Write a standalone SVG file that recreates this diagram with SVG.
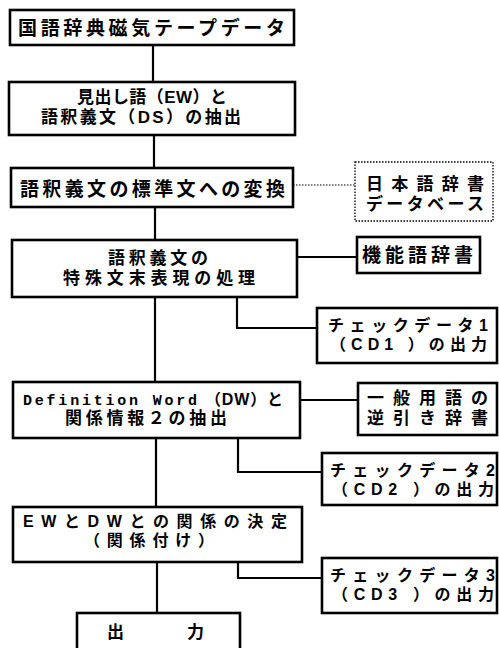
<svg xmlns="http://www.w3.org/2000/svg" width="499" height="648" viewBox="0 0 499 648">
<style>
.box{fill:#fff;stroke:#000;stroke-width:2.6}
.dbox{fill:#fff;stroke:#000;stroke-width:1.3;stroke-dasharray:1.5 1.5}
.ln{fill:none;stroke:#000;stroke-width:2.2}
.dl{fill:none;stroke:#000;stroke-width:1.2;stroke-dasharray:1.5 1.5}
text{font-family:"Liberation Sans","Noto Sans CJK JP",sans-serif;font-weight:bold;fill:#000}
.t19{font-size:19px}
.t17{font-size:17px}
.t16{font-size:16px}
.mono{font-family:"Liberation Mono","Noto Sans CJK JP",monospace;font-size:15px}
</style>
<rect width="499" height="648" fill="#fff"/>
<g id="connectors">
<line class="ln" x1="153" y1="45" x2="153" y2="82"/>
<line class="ln" x1="154" y1="135" x2="154" y2="168"/>
<line class="ln" x1="155" y1="207" x2="155" y2="240"/>
<line class="ln" x1="155" y1="297" x2="155" y2="382"/>
<line class="ln" x1="156" y1="438" x2="156" y2="507"/>
<line class="ln" x1="157" y1="562" x2="157" y2="613"/>
<line class="dl" x1="293" y1="185" x2="355" y2="185"/>
<line class="ln" x1="297" y1="257" x2="357" y2="257"/>
<polyline class="ln" points="237,297 237,328 317,328"/>
<line class="ln" x1="300" y1="400" x2="358" y2="400"/>
<polyline class="ln" points="238,438 238,472 322,472"/>
<polyline class="ln" points="238,562 238,578 322,578"/>
</g>
<g id="n1">
<rect class="box" x="10" y="10" width="284" height="35"/>
<text class="t19" x="18" y="35" textLength="267">国語辞典磁気テープデータ</text>
</g>
<g id="n2">
<rect class="box" x="9" y="82" width="286" height="53"/>
<text class="t17" x="152" y="103" text-anchor="middle" textLength="150">見出し語（EW）と</text>
<text class="t17" x="141" y="123" text-anchor="middle" textLength="200">語釈義文（DS）の抽出</text>
</g>
<g id="n3">
<rect class="box" x="11" y="168" width="282" height="39"/>
<text class="t19" x="20" y="196" textLength="265">語釈義文の標準文への変換</text>
</g>
<g id="n3db">
<rect class="dbox" x="355" y="162" width="138" height="59"/>
<text class="t17" x="366" y="190" textLength="118">日本語辞書</text>
<text class="t17" x="366" y="210" textLength="118">データベース</text>
</g>
<g id="n4">
<rect class="box" x="12" y="240" width="285" height="57"/>
<text class="t17" x="158" y="264" text-anchor="middle" textLength="100">語釈義文の</text>
<text class="t17" x="159" y="284" text-anchor="middle" textLength="192">特殊文末表現の処理</text>
</g>
<g id="n4d">
<rect class="box" x="357" y="237" width="123" height="36"/>
<text class="t19" x="362" y="262" textLength="111">機能語辞書</text>
</g>
<g id="n4c">
<rect class="box" x="317" y="308" width="180" height="55"/>
<text class="t16" x="328" y="331" textLength="160">チェックデータ1</text>
<text class="t16" x="330" y="350" textLength="157">（CD1 ）の出力</text>
</g>
<g id="n5">
<rect class="box" x="13" y="382" width="287" height="56"/>
<text class="mono" x="23" y="405" textLength="174">Definition Word</text>
<text class="t16" x="205" y="405" textLength="78">（DW）と</text>
<text class="t17" x="65" y="424" textLength="162">関係情報２の抽出</text>
</g>
<g id="n5d">
<rect class="box" x="358" y="383" width="139" height="52"/>
<text class="t17" x="367" y="404" textLength="121">一般用語の</text>
<text class="t17" x="367" y="424" textLength="121">逆引き辞書</text>
</g>
<g id="n5c">
<rect class="box" x="322" y="453" width="175" height="52"/>
<text class="t16" x="330" y="476" textLength="165">チェックデータ2</text>
<text class="t16" x="332" y="495" textLength="162">（CD2 ）の出力</text>
</g>
<g id="n6">
<rect class="box" x="13" y="507" width="289" height="55"/>
<text class="t16" x="23" y="527" textLength="264">EWとDWとの関係の決定</text>
<text class="t16" x="84" y="546" textLength="130">（関係付け）</text>
</g>
<g id="n6c">
<rect class="box" x="322" y="558" width="175" height="55"/>
<text class="t16" x="330" y="581" textLength="165">チェックデータ3</text>
<text class="t16" x="332" y="600" textLength="162">（CD3 ）の出力</text>
</g>
<g id="n7">
<rect class="box" x="77" y="613" width="163" height="45"/>
<text class="t17" x="107" y="638">出</text>
<text class="t17" x="187" y="638">力</text>
</g>
</svg>
